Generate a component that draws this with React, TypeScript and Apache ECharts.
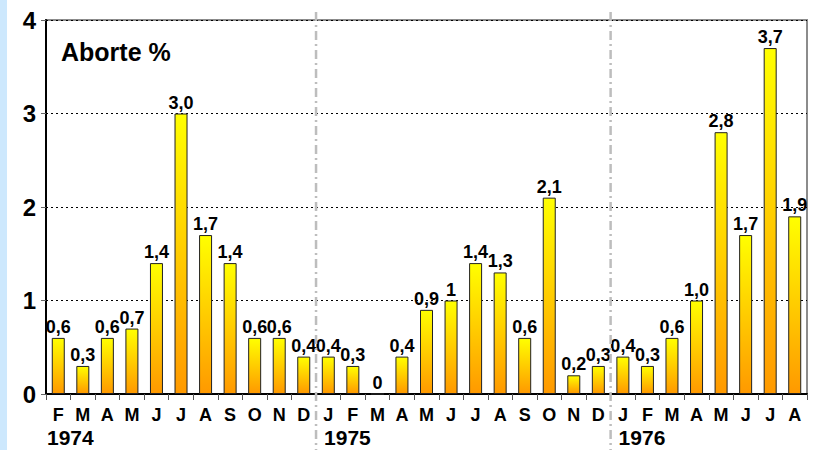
import React, { useEffect, useRef } from 'react';
import * as echarts from 'echarts';

const months = ['F','M','A','M','J','J','A','S','O','N','D','J','F','M','A','M','J','J','A','S','O','N','D','J','F','M','A','M','J','J','A'];
const values = [0.6,0.3,0.6,0.7,1.4,3.0,1.7,1.4,0.6,0.6,0.4, 0.4,0.3,0,0.4,0.9,1,1.4,1.3,0.6,2.1,0.2,0.3, 0.4,0.3,0.6,1.0,2.8,1.7,3.7,1.9];
const valueLabels = ['0,6','0,3','0,6','0,7','1,4','3,0','1,7','1,4','0,6','0,6','0,4','0,4','0,3','0','0,4','0,9','1','1,4','1,3','0,6','2,1','0,2','0,3','0,4','0,3','0,6','1,0','2,8','1,7','3,7','1,9'];
const years = ['1974','1975','1976'];
const yearStarts = [0, 11, 23];
const titleText = 'Aborte %';

const FONT = '"Liberation Sans", Arial, sans-serif';

export default function App() {
  const ref = useRef<HTMLDivElement>(null);
  useEffect(() => {
    document.body.style.margin = '0';
    const chart = echarts.init(ref.current!, null, { renderer: 'svg' });
    const cats = months.map((m, i) => m + '_' + i);
    chart.setOption({
      animation: false,
      backgroundColor: '#ffffff',
      title: {
        text: titleText,
        left: 61,
        top: 39,
        padding: 0,
        textStyle: { fontFamily: FONT, fontWeight: 'bold', fontSize: 25, color: '#000' },
      },
      grid: {
        left: 46, right: 9, top: 20, bottom: 56,
        show: true, borderColor: '#8c8c8c', borderWidth: 2, backgroundColor: '#fff',
      },
      xAxis: [
        {
          type: 'category',
          data: cats,
          axisLine: { lineStyle: { color: '#000', width: 2 } },
          axisTick: { show: true, interval: 0, length: 6, lineStyle: { color: '#555', width: 1 } },
          axisLabel: {
            interval: 0,
            margin: 12,
            formatter: (_v: string, i: number) => months[i],
            fontFamily: FONT, fontWeight: 'bold', fontSize: 18, color: '#000',
          },
        },
        { type: 'value', min: 0, max: months.length, show: false },
      ],
      yAxis: {
        type: 'value',
        min: 0, max: 4, interval: 1,
        axisLine: { show: true, lineStyle: { color: '#000', width: 2 } },
        axisTick: { show: true, length: 5, lineStyle: { color: '#666' } },
        axisLabel: { margin: 10, fontFamily: FONT, fontWeight: 'bold', fontSize: 24, color: '#000' },
        splitLine: { show: true, lineStyle: { color: '#000', type: [2, 3], width: 1 } },
      },
      series: [
        {
          type: 'bar',
          data: values,
          barWidth: 13,
          itemStyle: {
            color: new echarts.graphic.LinearGradient(0, 0, 0, 1, [
              { offset: 0, color: '#ffff00' },
              { offset: 1, color: '#ff9900' },
            ]),
            borderColor: '#222',
            borderWidth: 1,
          },
          label: {
            show: true,
            position: 'top',
            distance: 2,
            formatter: (p: any) => valueLabels[p.dataIndex],
            fontFamily: FONT, fontWeight: 'bold', fontSize: 18, color: '#000',
          },
        },
        { type: 'line', xAxisIndex: 1, data: [], silent: true },
      ],
    });

    const graphics: any[] = [
      { type: 'rect', shape: { x: 0, y: 0, width: 7, height: 450 }, style: { fill: '#cde8fd' }, z: 100 },
    ];
    yearStarts.forEach((s, i) => {
      const x = chart.convertToPixel({ xAxisIndex: 1 }, s) as number;
      if (s > 0) {
        graphics.push({
          type: 'line',
          shape: { x1: x, y1: 12, x2: x, y2: 450 },
          style: { stroke: '#bdbdbd', lineWidth: 2.5, lineDash: [9, 4, 2, 4] },
          z: 100,
        });
      }
      graphics.push({
        type: 'text',
        x: s > 0 ? x + 8 : x + 1,
        y: 437,
        style: {
          text: years[i], fontFamily: FONT, fontWeight: 'bold', fontSize: 21, fill: '#000',
          verticalAlign: 'middle', align: 'left',
        },
        z: 100,
      });
    });
    chart.setOption({ graphic: graphics });
    return () => chart.dispose();
  }, []);
  return <div ref={ref} style={{ width: 816, height: 450 }} />;
}
